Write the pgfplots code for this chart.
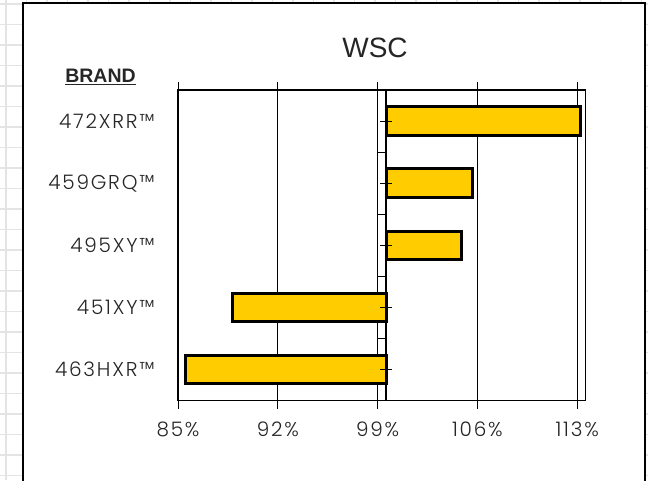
\documentclass[border=0pt]{standalone}
\usepackage{fontspec}
\setmainfont{Liberation Sans}
\newfontfamily\tickfont[LetterSpace=9]{Poppins Light}
\usepackage{pgfplots}
\usepackage{pgfplotstable}
\pgfplotsset{compat=1.18}
\definecolor{barfill}{HTML}{FFCC00}
\definecolor{sheetgrid}{HTML}{E4E4E4}

% bars run from the axis crossing at 99.6%
\pgfplotstableread{
pos val
0 85.51
1 88.79
2 104.86
3 105.63
4 113.21
}\wsc

\begin{document}
\begin{tikzpicture}[x=1pt,y=1pt]
\useasboundingbox (0,0) rectangle (648,480);
% spreadsheet cells behind the chart
\foreach \i in {0,...,31} \draw[sheetgrid, line width=1.5pt] (6+20.5*\i,0) -- ++(0,480);
\foreach \i in {0,...,23} \draw[sheetgrid, line width=1.5pt] (0,476-20.5*\i) -- ++(648,0);
\filldraw[fill=white, draw=black, line width=2pt] (23,477) rectangle (645,-10);

\node[font=\fontsize{28}{30}\selectfont, text=black!85] at (375,432) {WSC};
\node[font=\bfseries\fontsize{19.5}{22}\selectfont, text=black!85] at (100.5,403) {\underline{BRAND}};

\begin{axis}[
  at={(178pt,79.3pt)}, anchor=south west,
  scale only axis,
  width=407.7pt, height=310.7pt,
  xmin=-14.6, xmax=14.0,
  ymin=-0.5, ymax=4.5,
  xtick={-14.6,-7.6,-0.6,6.4,13.4},
  xticklabels={85\%,92\%,99\%,106\%,113\%},
  ytick={0,1,2,3,4},
  yticklabels={463HXR™,451XY™,495XY™,459GRQ™,472XRR™},
  xmajorgrids,
  major grid style={black, line width=1pt},
  axis line style={black, line width=1.2pt},
  tick align=outside,
  major tick length=8pt,
  xtick style={black, line width=1pt},
  ytick style={draw=none},
  xticklabel style={font=\tickfont\fontsize{20}{22}\selectfont, text=black!85, yshift=-10pt},
  yticklabel style={font=\tickfont\fontsize{20}{22}\selectfont, text=black!85, anchor=east, xshift=-12pt},
  /pgf/number format/assume math mode=true,
]
\addplot[xbar, bar width=28.5pt, bar shift=0pt, fill=barfill, draw=black, line width=3pt]
  table[x expr=\thisrow{val}-99.6, y=pos] {\wsc};
\draw[line width=1.3pt] (axis cs:0,-0.5) -- (axis cs:0,4.5);
\pgfplotsinvokeforeach{0.5,1.5,2.5,3.5}{\draw[line width=1pt] (axis cs:0,#1) -- ++(-8pt,0pt);}
\pgfplotsinvokeforeach{0,1,2,3,4}{\draw[line width=1pt] ([xshift=-6pt]axis cs:0,#1) -- ++(12pt,0pt);}
\end{axis}
\end{tikzpicture}
\end{document}
